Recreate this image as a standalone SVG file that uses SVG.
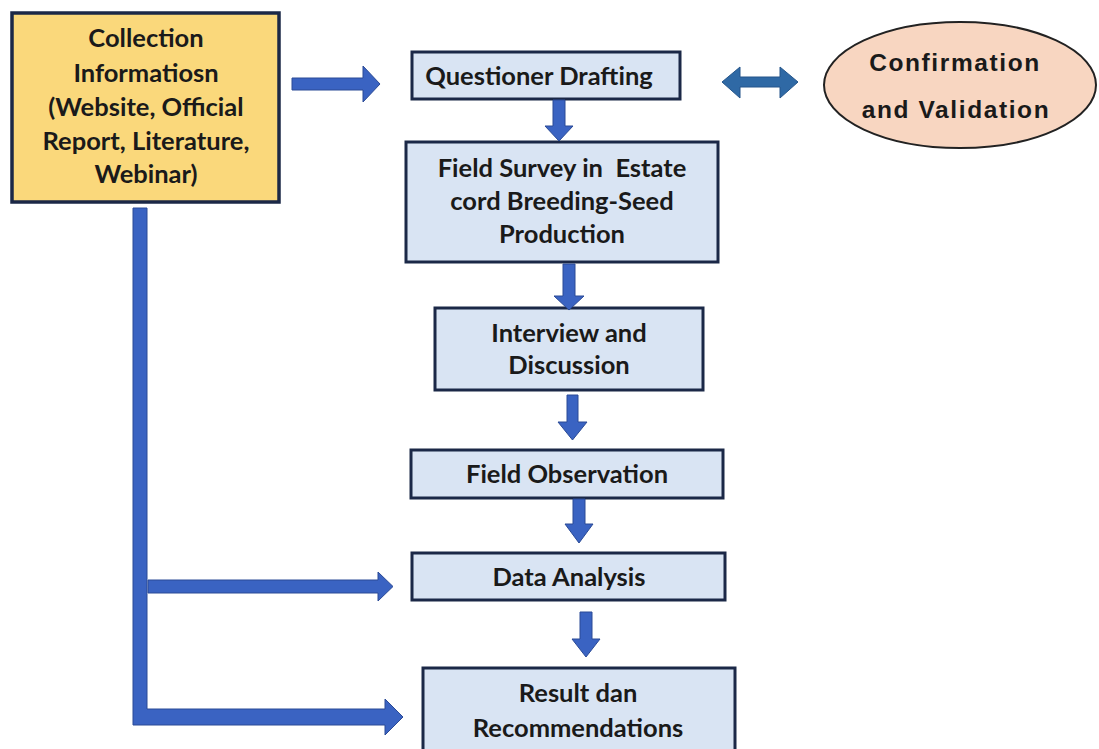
<svg xmlns="http://www.w3.org/2000/svg" width="1099" height="749" viewBox="0 0 1099 749">
<style>
.box{fill:#D9E4F3;stroke:#1B2847;stroke-width:3}
.yel{fill:#FAD87B;stroke:#1B2847;stroke-width:3.5}
.ell{fill:#F8D6C1;stroke:#222;stroke-width:2}
.t{font-family:Lato,"Liberation Sans",sans-serif;font-weight:700;font-size:25.5px;fill:#1a1a1a;text-anchor:middle}
.te{font-family:"Liberation Sans",Arial,sans-serif;font-weight:700;font-size:24.5px;letter-spacing:1.6px;fill:#1a1a1a;text-anchor:middle}
.arr{fill:#3A63C2;stroke:#2A4A96;stroke-width:1}
.dbl{fill:#2F69A5;stroke:#24558A;stroke-width:1}
</style>
<rect width="1099" height="749" fill="#ffffff"/>
<g id="collection">
<rect class="yel" x="12" y="13" width="267" height="189"/>
<text class="t" x="146" y="47">Collection</text>
<text class="t" x="146" y="82">Informatiosn</text>
<text class="t" x="146" y="116">(Website, Official</text>
<text class="t" x="146" y="150">Report, Literature,</text>
<text class="t" x="146" y="183">Webinar)</text>
</g>
<g id="questioner">
<rect class="box" x="412" y="52" width="268" height="47"/>
<text class="t" x="539" y="85">Questioner Drafting</text>
</g>
<g id="confirmation">
<ellipse class="ell" cx="960" cy="85" rx="136" ry="63"/>
<text class="te" x="955" y="71">Confirmation</text>
<text class="te" x="956" y="118">and Validation</text>
</g>
<g id="fieldsurvey">
<rect class="box" x="406" y="142" width="312" height="120"/>
<text class="t" x="562" y="177" xml:space="preserve">Field Survey in  Estate</text>
<text class="t" x="562" y="210">cord Breeding-Seed</text>
<text class="t" x="562" y="243">Production</text>
</g>
<g id="interview">
<rect class="box" x="435" y="308" width="268" height="82"/>
<text class="t" x="569" y="342">Interview and</text>
<text class="t" x="569" y="374">Discussion</text>
</g>
<g id="fieldobs">
<rect class="box" x="411" y="450" width="312" height="48"/>
<text class="t" x="567" y="483">Field Observation</text>
</g>
<g id="dataanalysis">
<rect class="box" x="412" y="553" width="313" height="47"/>
<text class="t" x="569" y="586">Data Analysis</text>
</g>
<g id="result">
<rect class="box" x="423" y="668" width="312" height="90"/>
<text class="t" x="578" y="702">Result dan</text>
<text class="t" x="578" y="737">Recommendations</text>
</g>
<g id="connectors">
<polygon class="arr" points="292,78 363,78 363,66 380,84 363,102 363,90 292,90"/>
<polygon class="dbl" points="722,82 740,67 740,77 780,77 780,67 798,82 780,98 780,87 740,87 740,98"/>
<polygon class="arr" points="553,100 565,100 565,126 573,126 559,141 545,126 553,126"/>
<polygon class="arr" points="563,264 575,264 575,296 584,296 569,310 554,296 563,296"/>
<polygon class="arr" points="567,395 578,395 578,422 587,422 572.5,440 558,422 567,422"/>
<polygon class="arr" points="573,499 585,499 585,524 593,524 579,543 565,524 573,524"/>
<polygon class="arr" points="580,612 592,612 592,639 600,639 586,657 572,639 580,639"/>
<path class="arr" d="M133,208 H147 V709 H385 V699 L403,717 L385,735 V725 H133 Z"/>
<polygon class="arr" points="148,580 378,580 378,572 393,586.5 378,601 378,593 148,593"/>
</g>
</svg>
